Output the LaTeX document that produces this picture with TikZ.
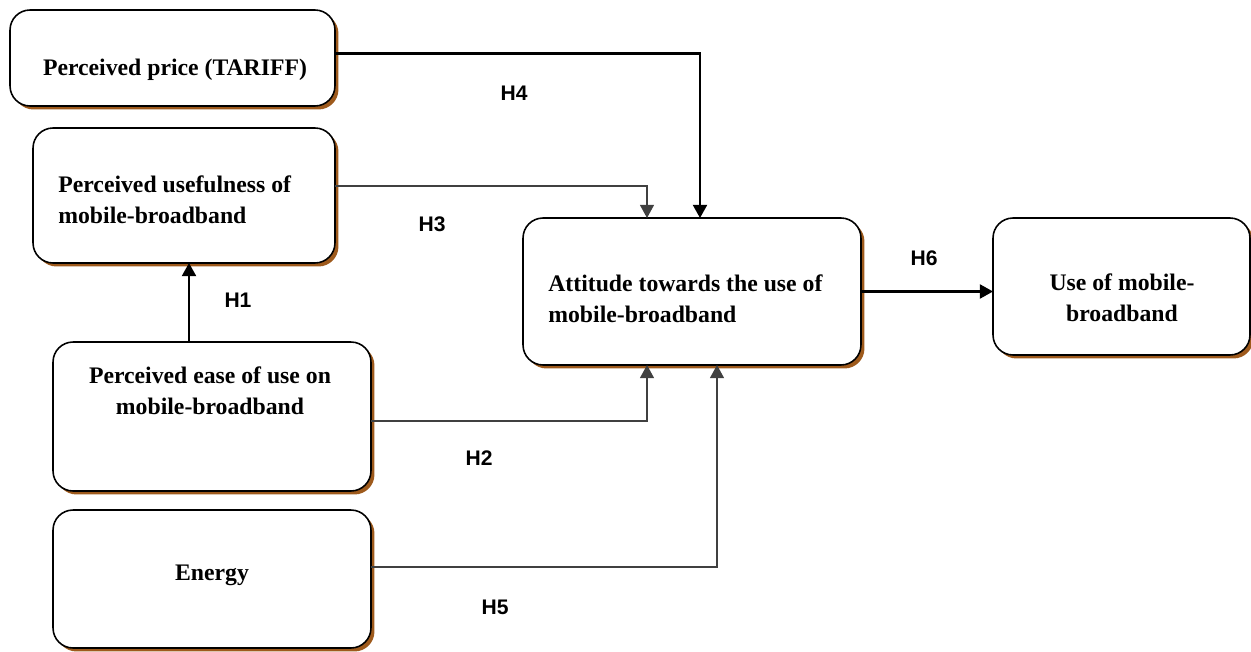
\documentclass[tikz,border=0pt]{standalone}
\usepackage{fontspec}
\setmainfont{Liberation Serif}
\newfontfamily\hfont{Liberation Sans}
\usepackage{tikz}
\usetikzlibrary{arrows.meta,shadows}
\definecolor{shadebrown}{HTML}{9E5A1C}
\definecolor{linegray}{HTML}{404040}
\tikzset{
  box/.style={draw, line width=0.9pt, rounded corners=0.4cm, fill=white,
    outer sep=0pt, inner sep=0pt,
    drop shadow={shadow xshift=0.07cm, shadow yshift=-0.07cm,
      fill=shadebrown, opacity=1}},
  boxtext/.style={font=\fontsize{13.5}{17.5}\selectfont\bfseries, inner sep=0pt},
  hyp/.style={font=\hfont\fontsize{12}{14}\selectfont\bfseries},
  thinarr/.style={draw=linegray, line width=0.7pt, -{Triangle[width=8pt,length=7.5pt]}},
  boldarr/.style={draw=black, line width=1.2pt, -{Triangle[width=8pt,length=7.5pt]}}
}

\begin{document}
\begin{tikzpicture}[x=0.02cm,y=-0.02cm]
  \useasboundingbox (0,0) rectangle (1251,652);
  % boxes
  \node[box, minimum width=6.5cm, minimum height=1.92cm] (price) at (172.5,58) {};
  \node[box, minimum width=6.04cm, minimum height=2.7cm] (useful) at (184,195.5) {};
  \node[box, minimum width=6.36cm, minimum height=2.98cm] (ease) at (212,416.5) {};
  \node[box, minimum width=6.36cm, minimum height=2.76cm] (energy) at (212,579) {};
  \node[box, minimum width=6.76cm, minimum height=2.94cm] (attitude) at (692,291.5) {};
  \node[box, minimum width=5.14cm, minimum height=2.74cm] (usage) at (1121.5,286.5) {};
  % box texts
  \node[boxtext] (pricet) at (175,70) {Perceived price (TARIFF)};
  \node[boxtext, align=left, anchor=west] (usefult) at (58,200)
    {Perceived usefulness of\\mobile-broadband};
  \node[boxtext, align=center] (easet) at (210,391)
    {Perceived ease of use on\\mobile-broadband};
  \node[boxtext] (energyt) at (212,575) {Energy};
  \node[boxtext, align=left, anchor=west] (attitudet) at (548,298.5)
    {Attitude towards the use of\\mobile-broadband};
  \node[boxtext, align=center] (usaget) at (1122,298)
    {Use of mobile-\\broadband};
  % connectors
  \draw[boldarr] ([yshift=0.09cm]price.east) -| ([xshift=0.16cm]attitude.north);
  \draw[thinarr] ([yshift=0.19cm]useful.east) -| ([xshift=-0.9cm]attitude.north);
  \draw[thinarr] ([yshift=-0.09cm]ease.east) -| ([xshift=-0.9cm]attitude.south);
  \draw[thinarr] ([yshift=0.24cm]energy.east) -| ([xshift=0.5cm]attitude.south);
  \draw[boldarr] ([xshift=-0.46cm]ease.north) coordinate (h1) -- (h1 |- useful.south);
  \draw[boldarr] (attitude.east) -- (attitude.east -| usage.west);
  % hypothesis labels
  \node[hyp] (H1) at (238,300) {H1};
  \node[hyp] (H2) at (479,458) {H2};
  \node[hyp] (H3) at (432,224) {H3};
  \node[hyp] (H4) at (514,93) {H4};
  \node[hyp] (H5) at (495,607) {H5};
  \node[hyp] (H6) at (924,258) {H6};
\end{tikzpicture}
\end{document}
